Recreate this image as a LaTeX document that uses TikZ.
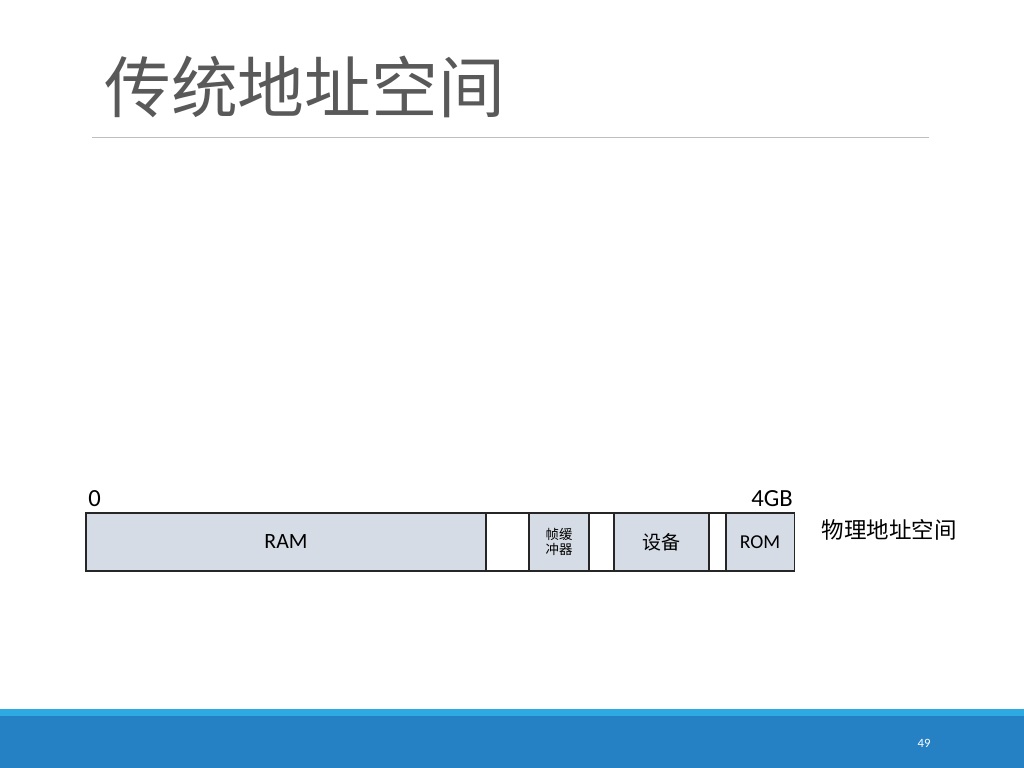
\documentclass[tikz,border=0pt]{standalone}
\usepackage{fontspec}
\setmainfont{Carlito}
\newfontfamily\cjk{Noto Sans CJK SC}
\usetikzlibrary{positioning}
\definecolor{segfill}{HTML}{D6DCE5}
\definecolor{ttl}{HTML}{595959}
\definecolor{rulegray}{HTML}{BFBFBF}
\definecolor{bandlite}{HTML}{2DAAE1}
\definecolor{banddark}{HTML}{2581C4}
\tikzset{
  seg/.style={draw=black!85,line width=0.9pt,fill=segfill,minimum height=1.45cm,inner sep=0pt,outer sep=0pt,align=center},
  gap/.style={seg,fill=white},
  lbl/.style={inner sep=0pt,font=\fontsize{17.5}{19}\selectfont},
}

\begin{document}
\begin{tikzpicture}[x=0.025cm,y=-0.025cm]
\useasboundingbox (0,0) rectangle (1024,768);
\fill[banddark] (0,716) rectangle (1024,768);
\fill[bandlite] (0,709) rectangle (1024,716);
\node[text=white,inner sep=0pt,font=\fontsize{9}{10}\selectfont] (pg) at (924,743) {49};
\node[anchor=west,inner sep=0pt,text=ttl,font=\cjk\fontsize{47.5}{52}\selectfont] (title) at (104,87) {传统地址空间};
\draw[rulegray,line width=0.6pt] (92,137) -- (929,137);
\node[seg,minimum width=10cm,font=\fontsize{15.5}{17}\selectfont] (ram) at (286,542) {RAM};
\node[gap,minimum width=1.075cm,right=0pt of ram] (gapa) {};
\node[seg,minimum width=1.5cm,right=0pt of gapa,font=\cjk\fontsize{9.5}{11}\selectfont] (fb) {帧缓\\冲器};
\node[gap,minimum width=0.625cm,right=0pt of fb] (gapb) {};
\node[seg,minimum width=2.375cm,right=0pt of gapb,font=\cjk\fontsize{13.5}{15}\selectfont] (dev) {设备};
\node[gap,minimum width=0.425cm,right=0pt of dev] (gapc) {};
\node[seg,minimum width=1.7cm,right=0pt of gapc,font=\fontsize{14}{16}\selectfont] (rom) {ROM};
\node[lbl,anchor=base west] (zero) at (88,506) {0};
\node[lbl,anchor=base east] (top) at (793,506) {4GB};
\node[lbl,font=\cjk\fontsize{16}{18}\selectfont] (phys) at (889,530) {物理地址空间};
\end{tikzpicture}
\end{document}
